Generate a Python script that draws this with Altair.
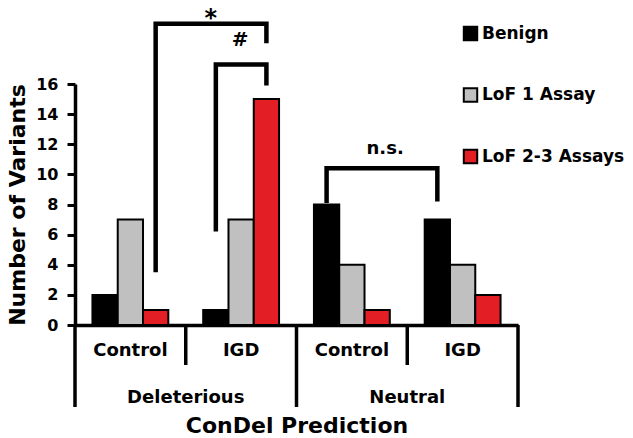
import altair as alt
import pandas as pd

# ---- data ----
groups = ["Deleterious Control", "Deleterious IGD", "Neutral Control", "Neutral IGD"]
group_labels = ["Control", "IGD", "Control", "IGD"]
super_labels = ["Deleterious", "Neutral"]
super_anchor = ["Deleterious Control", "Neutral Control"]
series = ["Benign", "LoF 1 Assay", "LoF 2-3 Assays"]
colors = ["#000000", "#C0C0C0", "#E31E24"]
benign = [2, 1, 8, 7]
lof1 = [7, 7, 4, 4]
lof23 = [1, 15, 1, 2]
y_ticks = [0, 2, 4, 6, 8, 10, 12, 14, 16]

# significance brackets (4 points each)
br_name = ["star"] * 4 + ["hash"] * 4 + ["ns"] * 4
br_group = ["Deleterious Control", "Deleterious Control", "Deleterious IGD", "Deleterious IGD",
            "Deleterious IGD", "Deleterious IGD", "Deleterious IGD", "Deleterious IGD",
            "Neutral Control", "Neutral Control", "Neutral IGD", "Neutral IGD"]
br_series = ["LoF 2-3 Assays"] * 4 + ["Benign", "Benign", "LoF 2-3 Assays", "LoF 2-3 Assays"] + ["Benign"] * 4
br_value = [3.5, 20.0, 20.0, 18.7, 6.2, 17.3, 17.3, 15.9, 8.1, 10.4, 10.4, 8.2]
br_order = [0, 1, 2, 3] * 3

ann_text = ["*", "#", "n.s."]
ann_group = ["Deleterious IGD", "Deleterious IGD", "Neutral Control"]
ann_series = ["Benign", "LoF 1 Assay", "LoF 2-3 Assays"]
ann_value = [19.85, 18.9, 11.7]
ann_dx = [-5, -1, 8]
ann_size = [24, 20, 18]
ann_baseline = ["alphabetic", "middle", "middle"]

FONT = "DejaVu Sans"

bars_df = pd.DataFrame({
    "group": [g for g in groups for _ in series],
    "series": series * len(groups),
    "value": [v for trio in zip(benign, lof1, lof23) for v in trio],
})
labels_df = pd.DataFrame({"group": groups, "label": group_labels})
super_df = pd.DataFrame({"group": super_anchor, "label": super_labels})
br_df = pd.DataFrame({"bracket": br_name, "group": br_group, "series": br_series,
                      "value": br_value, "idx": br_order})

xscale = alt.Scale(domain=groups, paddingInner=0, paddingOuter=0)
xoscale = alt.Scale(domain=series, paddingInner=0, paddingOuter=0.69)
yscale = alt.Scale(domain=[0, 16], nice=False)

xaxis = alt.Axis(labels=False, ticks=False, title="ConDel Prediction",
                 domainColor="black", domainWidth=3.5, titlePadding=90,
                 titleFont=FONT, titleFontSize=22, titleFontWeight="bold",
                 titleColor="black")
yaxis = alt.Axis(values=y_ticks, title="Number of Variants", grid=False,
                 labelOverlap=False, labelBound=False,
                 domainColor="black", domainWidth=3.5, tickColor="black",
                 tickWidth=3, tickSize=8, labelPadding=9,
                 labelFont=FONT, labelFontSize=16, labelFontWeight="bold",
                 labelColor="black", titleFont=FONT, titleFontSize=22,
                 titleFontWeight="bold", titleColor="black", titlePadding=6)


def X(bp=None):
    if bp is None:
        return alt.X("group:N", scale=xscale, sort=groups, axis=xaxis)
    return alt.X("group:N", scale=xscale, sort=groups, axis=xaxis, bandPosition=bp)


XO = alt.XOffset("series:N", scale=xoscale, sort=series)
Y = alt.Y("value:Q", scale=yscale, axis=yaxis)

H = 241

bars = alt.Chart(bars_df).mark_bar(stroke="black", strokeWidth=2).encode(
    x=X(), xOffset=XO, y=Y,
    color=alt.Color("series:N", sort=series, scale=alt.Scale(domain=series, range=colors),
                    legend=alt.Legend(orient="none", legendX=387, legendY=-59, title=None,
                                      symbolType="square", symbolSize=180,
                                      symbolStrokeColor="black", symbolStrokeWidth=2,
                                      symbolOpacity=1, labelFont=FONT, labelFontSize=17,
                                      labelFontWeight="bold", labelColor="black",
                                      rowPadding=38.5, labelOffset=3)),
)

sep_short = alt.Chart(pd.DataFrame({"group": ["Deleterious Control", "Neutral Control"]})).mark_rule(
    color="black", strokeWidth=3.5).encode(
    x=X(1), y=alt.value(H), y2=alt.value(H + 40))
sep_long_r = alt.Chart(pd.DataFrame({"group": ["Deleterious IGD", "Neutral IGD"]})).mark_rule(
    color="black", strokeWidth=3.5).encode(
    x=X(1), y=alt.value(H), y2=alt.value(H + 82))
sep_long_l = alt.Chart(pd.DataFrame({"group": ["Deleterious Control"]})).mark_rule(
    color="black", strokeWidth=3.5).encode(
    x=X(0), y=alt.value(H), y2=alt.value(H + 82))

sub_text = alt.Chart(labels_df).mark_text(font=FONT, fontSize=18, fontWeight="bold",
                                          color="black", baseline="middle").encode(
    x=X(), y=alt.value(H + 26), text="label:N")
super_text = alt.Chart(super_df).mark_text(font=FONT, fontSize=18, fontWeight="bold",
                                           color="black", baseline="middle").encode(
    x=X(1), y=alt.value(H + 73), text="label:N")

brackets = alt.Chart(br_df).mark_line(color="black", strokeWidth=4.5, strokeJoin="miter",
                                      strokeCap="butt").encode(
    x=X(), xOffset=XO, y=Y, detail="bracket:N", order="idx:Q")

ann_layers = []
for t, g, s, v, dx, fs, bl in zip(ann_text, ann_group, ann_series, ann_value, ann_dx,
                                  ann_size, ann_baseline):
    d = pd.DataFrame({"group": [g], "series": [s], "value": [v], "text": [t]})
    ann_layers.append(alt.Chart(d).mark_text(font=FONT, fontSize=fs, fontWeight="bold",
                                             color="black", baseline=bl, dx=dx).encode(
        x=X(), xOffset=XO, y=Y, text="text:N"))

chart = alt.layer(bars, sep_short, sep_long_r, sep_long_l, sub_text, super_text, brackets,
                  *ann_layers).properties(
    width=443, height=H,
    background="white",
    autosize=alt.AutoSizeParams(type="none"),
    padding={"left": 67, "top": 76, "right": 107, "bottom": 112},
).configure_view(stroke=None)

chart.save("out.html", embed_options={"renderer": "svg", "actions": False})
